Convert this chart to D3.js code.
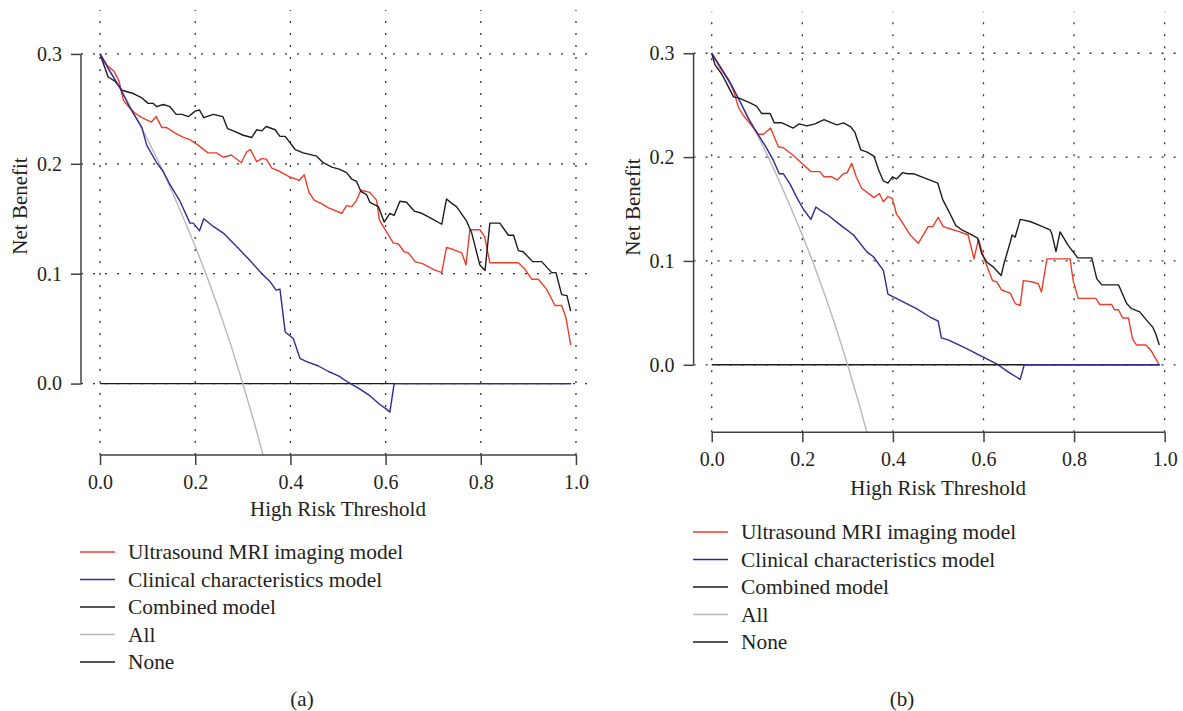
<!DOCTYPE html>
<html>
<head>
<meta charset="utf-8">
<script src="https://d3js.org/d3.v7.min.js"></script>
<style>
body { margin: 0; background: #fff; }
svg text { font-family: "Liberation Serif", "Times New Roman", serif; fill: #231f20; }
.axis text { font-size: 20px; }
.axis line, .axis .spine { stroke: #404040; stroke-width: 1.5; }
.grid line { stroke: #333; stroke-width: 1.3; stroke-dasharray: 2,10; }
.curve { fill: none; stroke-width: 1.4; stroke-linejoin: round; }
.title { font-size: 21px; }
.legend text { font-size: 21.4px; }
</style>
</head>
<body>
<svg id="chart" width="1183" height="711"></svg>
<script>
// values: [threshold, net benefit]
var ultrasoundA = [[0,0.300],[0.014,0.290],[0.030,0.284],[0.040,0.275],[0.049,0.258],[0.060,0.252],[0.074,0.246],[0.088,0.242],[0.108,0.238],[0.118,0.243],[0.130,0.233],[0.140,0.233],[0.158,0.228],[0.175,0.224],[0.189,0.222],[0.206,0.217],[0.227,0.210],[0.245,0.210],[0.259,0.206],[0.276,0.208],[0.297,0.201],[0.308,0.211],[0.316,0.213],[0.329,0.202],[0.341,0.205],[0.350,0.204],[0.361,0.196],[0.378,0.193],[0.399,0.188],[0.419,0.185],[0.429,0.190],[0.439,0.174],[0.450,0.167],[0.468,0.163],[0.480,0.160],[0.508,0.155],[0.518,0.162],[0.529,0.161],[0.538,0.166],[0.548,0.176],[0.567,0.174],[0.581,0.167],[0.587,0.149],[0.595,0.143],[0.616,0.128],[0.627,0.127],[0.639,0.120],[0.648,0.119],[0.662,0.111],[0.679,0.109],[0.700,0.104],[0.718,0.101],[0.728,0.124],[0.742,0.122],[0.760,0.119],[0.769,0.108],[0.777,0.140],[0.798,0.140],[0.808,0.134],[0.819,0.110],[0.879,0.110],[0.893,0.104],[0.907,0.095],[0.921,0.095],[0.938,0.086],[0.949,0.077],[0.956,0.071],[0.970,0.071],[0.979,0.060],[0.989,0.035]];
var clinicalA = [[0,0.300],[0.021,0.284],[0.042,0.269],[0.063,0.251],[0.088,0.233],[0.098,0.217],[0.119,0.201],[0.133,0.193],[0.147,0.181],[0.168,0.166],[0.189,0.146],[0.196,0.146],[0.209,0.139],[0.218,0.150],[0.238,0.143],[0.259,0.137],[0.291,0.123],[0.315,0.112],[0.340,0.100],[0.357,0.093],[0.370,0.085],[0.378,0.086],[0.389,0.047],[0.406,0.041],[0.420,0.023],[0.434,0.020],[0.459,0.016],[0.480,0.011],[0.501,0.007],[0.522,0.001],[0.546,-0.005],[0.567,-0.011],[0.588,-0.019],[0.601,-0.023],[0.609,-0.026],[0.618,0],[0.989,0]];
var combinedA = [[0,0.300],[0.017,0.279],[0.032,0.275],[0.046,0.267],[0.070,0.264],[0.088,0.260],[0.101,0.255],[0.112,0.255],[0.119,0.252],[0.133,0.254],[0.147,0.252],[0.160,0.245],[0.172,0.245],[0.186,0.243],[0.200,0.248],[0.209,0.249],[0.218,0.242],[0.238,0.245],[0.258,0.243],[0.268,0.232],[0.280,0.230],[0.301,0.226],[0.319,0.224],[0.329,0.231],[0.340,0.230],[0.349,0.234],[0.368,0.231],[0.378,0.225],[0.389,0.225],[0.410,0.213],[0.427,0.210],[0.455,0.207],[0.469,0.201],[0.487,0.197],[0.504,0.195],[0.518,0.192],[0.529,0.186],[0.539,0.184],[0.548,0.175],[0.560,0.172],[0.567,0.165],[0.585,0.161],[0.597,0.147],[0.609,0.155],[0.618,0.153],[0.630,0.166],[0.644,0.165],[0.660,0.157],[0.676,0.155],[0.693,0.151],[0.718,0.145],[0.728,0.168],[0.739,0.164],[0.749,0.161],[0.770,0.148],[0.781,0.137],[0.798,0.108],[0.809,0.103],[0.819,0.146],[0.840,0.146],[0.858,0.135],[0.869,0.135],[0.879,0.121],[0.889,0.120],[0.909,0.111],[0.928,0.111],[0.949,0.101],[0.958,0.101],[0.970,0.081],[0.981,0.080],[0.989,0.066]];
var allA = [[0,0.300],[0.025,0.282],[0.05,0.263],[0.075,0.243],[0.10,0.222],[0.125,0.200],[0.15,0.176],[0.175,0.151],[0.20,0.125],[0.225,0.097],[0.25,0.067],[0.275,0.035],[0.30,0.000],[0.325,-0.037],[0.35,-0.077]];
var noneA = [[0,0],[0.99,0]];

var ultrasoundB = [[0,0.300],[0.018,0.286],[0.037,0.275],[0.048,0.264],[0.059,0.248],[0.070,0.240],[0.085,0.232],[0.103,0.222],[0.114,0.222],[0.130,0.228],[0.147,0.210],[0.158,0.209],[0.179,0.202],[0.199,0.194],[0.219,0.186],[0.239,0.186],[0.248,0.181],[0.265,0.181],[0.277,0.178],[0.291,0.184],[0.299,0.185],[0.309,0.194],[0.319,0.181],[0.331,0.170],[0.358,0.161],[0.370,0.165],[0.379,0.157],[0.389,0.162],[0.399,0.160],[0.408,0.145],[0.421,0.137],[0.438,0.125],[0.456,0.117],[0.478,0.133],[0.488,0.133],[0.500,0.142],[0.511,0.133],[0.526,0.131],[0.548,0.128],[0.566,0.125],[0.579,0.102],[0.589,0.121],[0.600,0.104],[0.611,0.091],[0.620,0.081],[0.629,0.080],[0.640,0.072],[0.659,0.069],[0.670,0.059],[0.681,0.057],[0.688,0.081],[0.706,0.080],[0.721,0.078],[0.728,0.070],[0.740,0.102],[0.791,0.102],[0.798,0.081],[0.809,0.064],[0.848,0.064],[0.857,0.058],[0.883,0.058],[0.889,0.053],[0.898,0.053],[0.907,0.045],[0.920,0.045],[0.929,0.025],[0.938,0.019],[0.959,0.019],[0.971,0.013],[0.988,0]];
var clinicalB = [[0,0.300],[0.022,0.285],[0.044,0.269],[0.062,0.254],[0.081,0.237],[0.099,0.224],[0.118,0.211],[0.136,0.197],[0.149,0.184],[0.158,0.184],[0.173,0.174],[0.188,0.161],[0.202,0.150],[0.219,0.140],[0.230,0.152],[0.239,0.149],[0.257,0.144],[0.283,0.135],[0.313,0.125],[0.342,0.109],[0.357,0.104],[0.379,0.091],[0.389,0.068],[0.416,0.062],[0.452,0.054],[0.482,0.046],[0.500,0.042],[0.507,0.026],[0.522,0.024],[0.556,0.017],[0.592,0.009],[0.629,0.001],[0.655,-0.007],[0.681,-0.014],[0.690,0],[0.988,0]];
var combinedB = [[0,0.300],[0.007,0.289],[0.022,0.280],[0.033,0.271],[0.048,0.258],[0.059,0.257],[0.081,0.253],[0.099,0.249],[0.110,0.242],[0.129,0.242],[0.138,0.233],[0.155,0.233],[0.180,0.228],[0.193,0.232],[0.210,0.230],[0.228,0.232],[0.248,0.236],[0.265,0.233],[0.277,0.231],[0.291,0.233],[0.307,0.229],[0.316,0.224],[0.329,0.207],[0.342,0.205],[0.358,0.201],[0.369,0.187],[0.379,0.177],[0.389,0.175],[0.399,0.181],[0.408,0.179],[0.421,0.185],[0.432,0.184],[0.445,0.184],[0.475,0.179],[0.499,0.175],[0.510,0.159],[0.522,0.149],[0.539,0.134],[0.552,0.130],[0.570,0.126],[0.587,0.122],[0.596,0.107],[0.607,0.099],[0.622,0.094],[0.639,0.086],[0.645,0.097],[0.659,0.118],[0.663,0.125],[0.670,0.123],[0.681,0.140],[0.703,0.138],[0.725,0.134],[0.747,0.130],[0.751,0.126],[0.760,0.109],[0.769,0.128],[0.787,0.115],[0.808,0.103],[0.839,0.103],[0.850,0.083],[0.861,0.077],[0.898,0.077],[0.916,0.059],[0.927,0.054],[0.945,0.051],[0.960,0.043],[0.974,0.036],[0.981,0.029],[0.988,0.019]];
var allB = [[0,0.300],[0.025,0.282],[0.05,0.263],[0.075,0.243],[0.10,0.222],[0.125,0.200],[0.15,0.176],[0.175,0.151],[0.20,0.125],[0.225,0.097],[0.25,0.067],[0.275,0.035],[0.30,0.000],[0.325,-0.037],[0.35,-0.077]];
var noneB = [[0,0],[0.99,0]];

var xTicks = [0, 0.2, 0.4, 0.6, 0.8, 1.0];
var yTicks = [0, 0.1, 0.2, 0.3];
var legendLabels = ["Ultrasound MRI imaging model", "Clinical characteristics model", "Combined model", "All", "None"];
var colors = ["#ee3e2b", "#2e2c94", "#1c1c1c", "#b8b8b8", "#1c1c1c"];

var svg = d3.select("#chart");

var panels = [
  {name: "a", series: [ultrasoundA, clinicalA, combinedA, allA, noneA],
   xr: [81, 595], yr: [455, 10], yTitle: [27, 206], xTitleY: 516, legX: 80, legY: 552, tagX: 302},
  {name: "b", series: [ultrasoundB, clinicalB, combinedB, allB, noneB],
   xr: [693.6, 1182.8], yr: [432.3, 11.7], yTitle: [640, 207], xTitleY: 495, legX: 693, legY: 532, tagX: 902}
];

panels.forEach(function(p) {
  var x = d3.scaleLinear().domain([-0.04, 1.04]).range(p.xr);
  var y = d3.scaleLinear().domain([-0.065, 0.34]).range(p.yr);
  var g = svg.append("g");

  g.append("clipPath").attr("id", "clip-" + p.name)
    .append("rect")
    .attr("x", p.xr[0]).attr("y", p.yr[1])
    .attr("width", p.xr[1] - p.xr[0]).attr("height", p.yr[0] - p.yr[1]);

  /* dotted grid */
  var grid = g.append("g").attr("class", "grid");
  grid.selectAll(".gv").data(xTicks).enter().append("line")
    .attr("x1", d => x(d)).attr("x2", d => x(d))
    .attr("y1", p.yr[0]).attr("y2", p.yr[1]);
  grid.selectAll(".gh").data(yTicks).enter().append("line")
    .attr("x1", p.xr[0]).attr("x2", p.xr[1])
    .attr("y1", d => y(d)).attr("y2", d => y(d));

  /* curves: None, All, then the models */
  var line = d3.line().x(d => x(d[0])).y(d => y(d[1]));
  var order = [4, 3, 0, 2, 1];
  g.append("g").attr("clip-path", "url(#clip-" + p.name + ")")
    .selectAll("path").data(order).enter().append("path")
    .attr("class", "curve")
    .attr("d", i => line(p.series[i]))
    .style("stroke", i => colors[i]);

  /* axes, R style: spine only between first and last tick */
  var xAxis = d3.axisBottom(x).tickValues(xTicks).tickFormat(d3.format(".1f"))
    .tickSize(10).tickPadding(10);
  var gx = g.append("g").attr("class", "axis")
    .attr("transform", "translate(0," + p.yr[0] + ")").call(xAxis);
  gx.select(".domain").remove();
  gx.append("line").attr("class", "spine")
    .attr("x1", x(0)).attr("x2", x(1));

  var yAxis = d3.axisLeft(y).tickValues(yTicks).tickFormat(d3.format(".1f"))
    .tickSize(10).tickPadding(9);
  var gy = g.append("g").attr("class", "axis")
    .attr("transform", "translate(" + p.xr[0] + ",0)").call(yAxis);
  gy.select(".domain").remove();
  gy.append("line").attr("class", "spine")
    .attr("y1", y(0)).attr("y2", y(0.3));

  g.append("text").attr("class", "title")
    .attr("x", (x(0) + x(1)) / 2).attr("y", p.xTitleY)
    .attr("text-anchor", "middle").text("High Risk Threshold");
  g.append("text").attr("class", "title")
    .attr("transform", "translate(" + p.yTitle[0] + "," + p.yTitle[1] + ") rotate(-90)")
    .attr("text-anchor", "middle").text("Net Benefit");

  /* legend */
  var leg = g.append("g").attr("class", "legend");
  var rows = leg.selectAll("g").data(legendLabels).enter().append("g")
    .attr("transform", (d, i) => "translate(" + p.legX + "," + (p.legY + i * 27.5) + ")");
  rows.append("line").attr("x1", 0).attr("x2", 35)
    .style("stroke", (d, i) => colors[i]).style("stroke-width", 1.4);
  rows.append("text").attr("x", 48).attr("y", 7).text(d => d);

  g.append("text").attr("class", "title")
    .attr("x", p.tagX).attr("y", 706).attr("text-anchor", "middle")
    .text("(" + p.name + ")");
});
</script>
</body>
</html>
